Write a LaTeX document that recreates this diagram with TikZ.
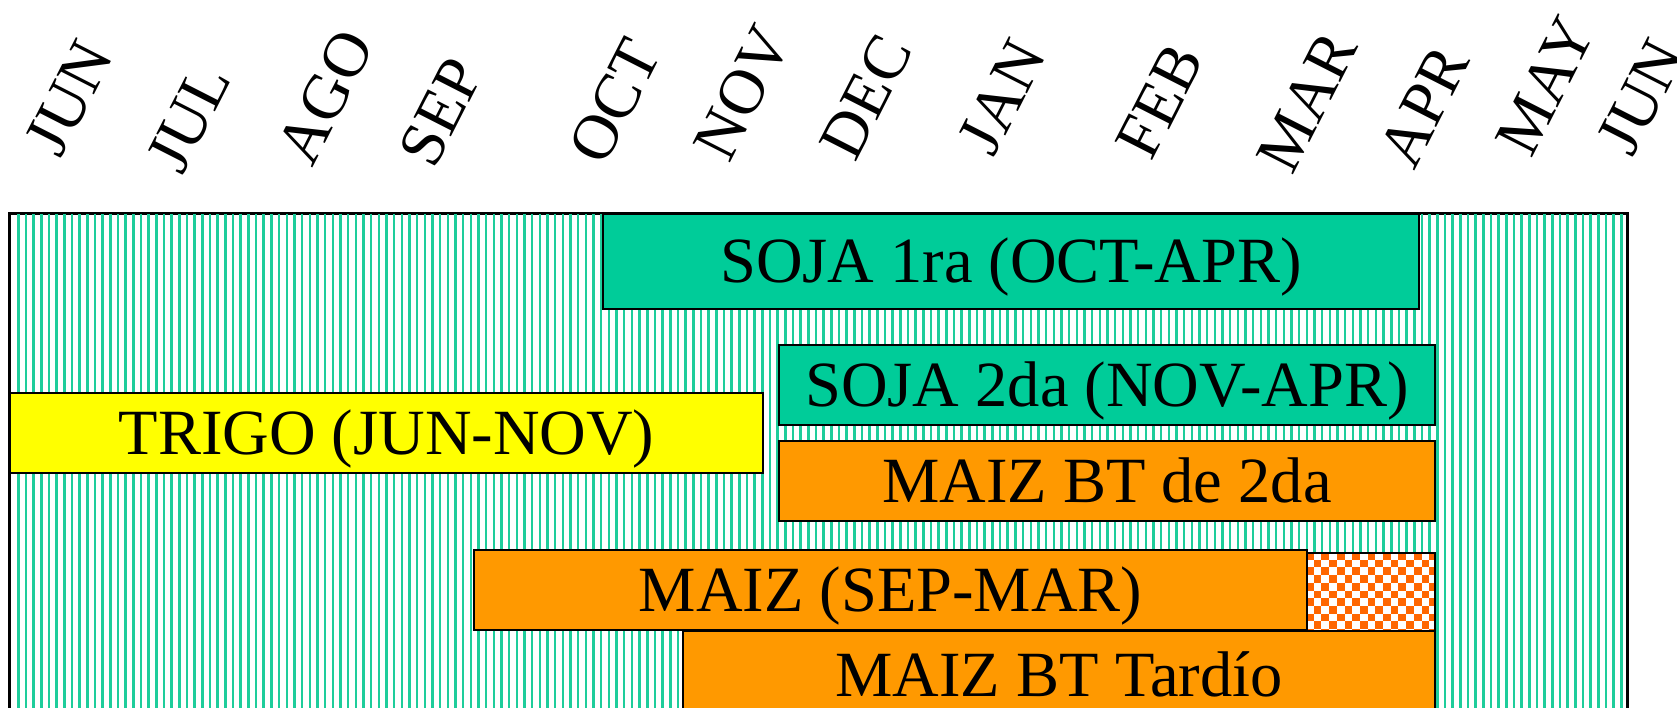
\documentclass[tikz,border=0pt]{standalone}
\usepackage{fontspec}
\setmainfont{Liberation Serif}
\definecolor{soja}{RGB}{0,204,153}
\definecolor{stripe}{RGB}{30,205,155}
\definecolor{trigo}{RGB}{255,255,0}
\definecolor{maiz}{RGB}{255,153,0}
\definecolor{chkorange}{RGB}{255,102,0}
\tikzset{
  box/.style={draw=black, line width=2pt, inner sep=0pt, anchor=north west,
    text height=42pt, text depth=0pt, font=\fontsize{64.5}{70}\selectfont},
  month/.style={rotate=63, inner sep=0pt, font=\fontsize{64}{70}\selectfont},
}
\begin{document}
\begin{tikzpicture}[x=1pt,y=-1pt]
\useasboundingbox (0,0) rectangle (1677,708);
\clip (0,0) rectangle (1677,708);
% background striped field
\node[draw=black, line width=2pt, fill=white, minimum width=1617pt, minimum height=510pt,
  inner sep=0pt, anchor=north west] (bg) at (9,213) {};
\begin{scope}
  \clip (9,213) rectangle (1626,723);
  \foreach \k in {0,...,209}
    \draw[stripe, line width=2.5pt] ({18.3+7.67*\k},213) -- ++(0,510);
\end{scope}
\draw[line width=2pt] (bg.north west) rectangle (bg.south east);
% crop boxes
\node[box, fill=soja, minimum width=816pt, minimum height=95pt] (soja1) at (602,213) {SOJA 1ra (OCT-APR)};
\node[box, fill=soja, minimum width=656pt, minimum height=80pt] (soja2) at (778,344) {SOJA 2da (NOV-APR)};
\node[box, fill=trigo, minimum width=753pt, minimum height=80pt] (trigo) at (9,392) {TRIGO (JUN-NOV)};
\node[box, fill=maiz, minimum width=656pt, minimum height=80pt] (maizbt2) at (778,440) {MAIZ BT de 2da};
\node[box, fill=maiz, minimum width=833pt, minimum height=80pt] (maiz) at (473,549) {MAIZ (SEP-MAR)};
% checkerboard extension
\begin{scope}
  \clip (1306,552) rectangle (1434,632);
  \fill[white] (1306,552) rectangle (1434,632);
  \foreach \i in {0,2,...,16}
    \foreach \j in {0,2,...,10} {
      \fill[chkorange] ({1306+7.7*\i},{552+7.7*\j}) rectangle ++(7.7,7.7);
      \fill[chkorange] ({1306+7.7*(\i+1)},{552+7.7*(\j+1)}) rectangle ++(7.7,7.7);
    }
\end{scope}
\node[box, minimum width=128pt, minimum height=80pt] (chk) at (1306,552) {};
\node[box, fill=maiz, minimum width=752pt, minimum height=88pt] (maiztard) at (682,630) {MAIZ BT Tardío};
% month labels
\node[month] (m1) at (69,98) {JUN};
\node[month] (m2) at (189,118) {JUL};
\node[month] (m3) at (325,97) {AGO};
\node[month] (m4) at (441,112) {SEP};
\node[month] (m5) at (615,101) {OCT};
\node[month] (m6) at (743,93) {NOV};
\node[month] (m7) at (866,97) {DEC};
\node[month] (m8) at (1002,97) {JAN};
\node[month] (m9) at (1160,101) {FEB};
\node[month] (m10) at (1307,102) {MAR};
\node[month] (m11) at (1424,106) {APR};
\node[month] (m12) at (1545,86) {MAY};
\node[month] (m13) at (1641,97) {JUN};
\end{tikzpicture}
\end{document}
